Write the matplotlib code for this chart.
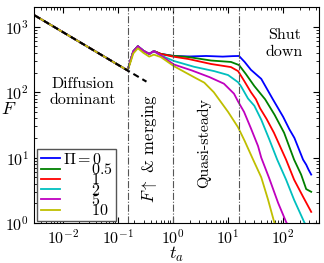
import matplotlib
matplotlib.use("Agg")
import matplotlib.pyplot as plt

plt.rcParams['font.family'] = 'serif'
plt.rcParams['font.serif'] = ['cmr10']
plt.rcParams['mathtext.fontset'] = 'cm'
plt.rcParams['axes.formatter.use_mathtext'] = True

# ---- data ----
t_diff = [0.0031, 0.01, 0.03, 0.1, 0.15]
F_diff = [1490, 830, 480, 263, 215]

t_fit = [0.0031, 0.33]
F_fit = [1490, 145]

t_bump = [0.17, 0.19, 0.23, 0.29, 0.37, 0.45]
F_bump = [310, 420, 505, 430, 385, 425]
F_bump_10 = [290, 390, 470, 400, 350, 375]

labels = ['0', '0.5', '1', '2', '5', '10']
colors = ['#0000ff', '#008000', '#ff0000', '#00bfbf', '#bf00bf', '#bfbf00']

t0 = [0.6, 1, 2, 4, 8, 12, 15.8, 20, 26, 40, 65, 100, 130, 160, 230, 262, 290, 323]
F0 = [385, 358, 352, 358, 350, 356, 358, 290, 220, 160, 78, 42, 27, 20, 9.3, 7.8, 6.5, 5.5]

t05 = [0.6, 1, 1.9, 4.9, 11.3, 15.8, 21, 30, 47, 70, 104, 158, 212, 262, 323]
F05 = [385, 360, 345, 305, 290, 260, 190, 124, 78, 45, 24, 9.3, 5.5, 3.3, 3.0]

t1 = [0.6, 1, 1.9, 4.9, 11.3, 15.2, 19.5, 26, 32, 38, 50, 68, 113, 158, 231, 323]
F1 = [385, 350, 322, 270, 242, 210, 150, 100, 78, 57, 39, 24, 9.3, 4.6, 2.5, 1.48]

t2 = [0.6, 1.04, 2.4, 5.6, 10, 15.2, 17.2, 23, 30, 40, 56, 78, 113, 158, 240, 262]
F2 = [365, 300, 245, 210, 183, 142, 123, 80, 62, 38, 19, 9.3, 4.6, 2.26, 1.04, 0.9]

t5 = [0.6, 1.04, 2.2, 4.6, 8.4, 12.8, 15.2, 19.5, 26, 35, 40, 56, 81, 113, 125]
F5 = [365, 265, 215, 170, 135, 95, 72, 50, 28, 15, 10, 4.8, 2.03, 1.04, 0.9]

t10 = [0.6, 1.04, 2.4, 3.7, 5.5, 10, 15.2, 20, 28.5, 40, 53, 68.6, 75]
F10 = [345, 250, 170, 140, 100, 50, 29, 18, 9.3, 5, 2.3, 1.04, 0.9]

series_t = [t0, t05, t1, t2, t5, t10]
series_F = [F0, F05, F1, F2, F5, F10]

phase_lines = [0.15, 1.0, 15.8]

# ---- plot ----
fig = plt.figure(figsize=(3.24, 2.63), dpi=100)
ax = fig.add_axes([0.105, 0.152, 0.88, 0.821])

handles = []
for i, (ts, Fs) in enumerate(zip(series_t, series_F)):
    bump = F_bump_10 if labels[i] == '10' else F_bump
    tt = t_diff + t_bump + ts
    FF = F_diff + bump + Fs
    h, = ax.plot(tt, FF, color=colors[i], lw=1.3)
    handles.append(h)

ax.plot(t_fit, F_fit, color='black', ls='--', lw=1.5, dashes=(3, 2))

for xv in phase_lines:
    ax.axvline(xv, color='#555555', ls='-.', lw=0.8)

ax.set_xscale('log')
ax.set_yscale('log')
ax.set_xlim(0.003, 450)
ax.set_ylim(1, 2000)

ax.tick_params(which='both', direction='in', top=True, right=True, labelsize=11.5)
ax.tick_params(which='major', length=4)
ax.tick_params(which='minor', length=2)

ax.set_xlabel('$t_a$', fontsize=13, va='center')
ax.xaxis.set_label_coords(0.5, -0.145)
ax.set_ylabel('$F$', fontsize=13, rotation=0, va='center', ha='center')
ax.yaxis.set_label_coords(-0.09, 0.53)

fs = 11.5
ax.text(0.023, 100, 'Diffusion\ndominant', ha='center', va='center', fontsize=fs, linespacing=1.25)
ax.text(0.38, 14, r'$F\uparrow$ & merging', ha='center', va='center', rotation=90, fontsize=12)
ax.text(3.66, 17, 'Quasi-steady', ha='center', va='center', rotation=90, fontsize=fs)
ax.text(104, 550, 'Shut\ndown', ha='center', va='center', fontsize=fs, linespacing=1.25)

leg_labels = [r'$\Pi=0$'] + [r'$\qquad' + l + '$' for l in labels[1:]]
leg = ax.legend(handles, leg_labels, loc='lower left', bbox_to_anchor=(0.012, 0.008),
                borderaxespad=0, fontsize=11.5, handlelength=1.2, handletextpad=0.2,
                labelspacing=-0.3, fancybox=False, edgecolor='#555555', framealpha=1,
                borderpad=0.2)
leg.get_frame().set_linewidth(1.0)

fig.savefig('out.png', dpi=100)
